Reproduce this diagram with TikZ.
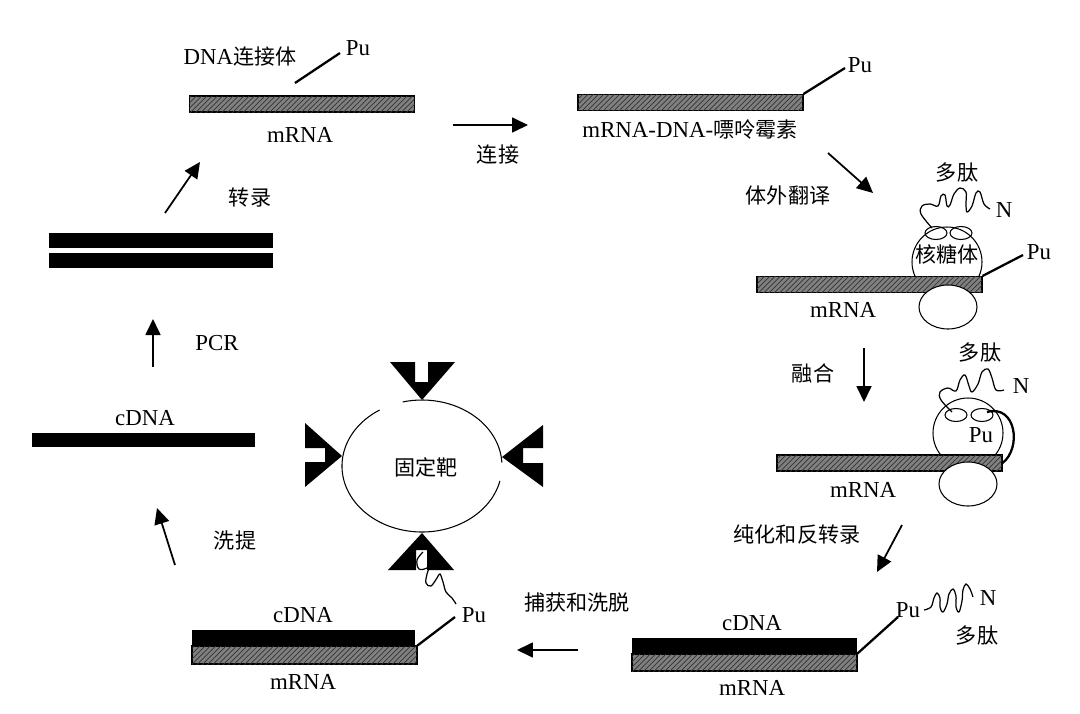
\documentclass[tikz,border=0pt]{standalone}
\usepackage{fontspec}
\setmainfont{Liberation Serif}
\newfontfamily\zh{Noto Sans CJK SC}
\usetikzlibrary{arrows.meta,patterns}
\newcommand{\zt}[1]{{\zh\fontsize{12}{14}\selectfont #1}}
\tikzset{
  rna/.style={draw,semithick,fill=black!50,postaction={pattern=north east lines,pattern color=black!80},inner sep=0pt,minimum width=4.5cm,minimum height=0.32cm},
  dna/.style={fill=black,inner sep=0pt,minimum width=4.5cm,minimum height=0.32cm},
  arr/.style={line width=1pt,-{Triangle[length=0.32cm,width=0.3cm]}},
  lnk/.style={line width=1.3pt},
  pep/.style={line width=0.7pt},
  every node/.style={font=\fontsize{13}{15}\selectfont}
}
\begin{document}
\begin{tikzpicture}[x=0.02cm,y=-0.02cm]
\useasboundingbox (0,0) rectangle (1080,714);
% top left: mRNA with linker
\node[rna] (rnaA) at (302,104) {};
\node (mA) at (300,135) {mRNA};
\node (lnkA) at (240,57) {DNA\zt{连接体}};
\node (puA) at (358,48) {Pu};
\coordinate (lA1) at (295,83); \coordinate (lA2) at (340,53);
\draw[lnk] (lA1) -- (lA2);
\coordinate (a1s) at (453,125); \coordinate (a1e) at (528,125);
\draw[arr] (a1s) -- (a1e);
\node (t1) at (498,155) {\zt{连接}};
% top right: mRNA-DNA-puromycin
\node[rna] (rnaB) at (690.5,102.5) {};
\node (puB) at (860,65) {Pu};
\draw[lnk] (rnaB.north east) -- (845,68);
\node (mB) at (690,130) {mRNA-DNA-\zt{嘌呤霉素}};
\coordinate (a2s) at (828,153); \coordinate (a2e) at (873,193);
\draw[arr] (a2s) -- (a2e);
\node (t2) at (788,195) {\zt{体外翻译}};
% ribosome 1
\draw[semithick,fill=white] (947,262) circle[radius=35];
\node[rna] (rnaC) at (869.5,284.5) {};
\draw[semithick,fill=white] (948,307) circle[x radius=29,y radius=22];
\draw[semithick] (936,233) circle[x radius=11,y radius=6.5] (961,233) circle[x radius=11,y radius=6.5];
\node (ribo1) at (947,254) {\zt{核糖体}};
\draw[pep] plot[smooth,tension=0.6] coordinates {(932,228) (921,214) (922,206) (930,204) (938,206) (941,196) (945,195) (947,206) (950,205) (954,194) (960,188) (966,192) (966,204) (967,212) (972,206) (976,193) (980,192) (984,204) (990,209)};
\node (pep1) at (957,172) {\zt{多肽}};
\node (n1) at (1004,210) {N};
\node (puC) at (1039,252) {Pu};
\draw[lnk] (rnaC.north east) -- (1023,255);
\node (mC) at (843,310) {mRNA};
\coordinate (a3s) at (864,348); \coordinate (a3e) at (864,402);
\draw[arr] (a3s) -- (a3e);
\node (t3) at (813,373) {\zt{融合}};
% ribosome 2 (fused)
\draw[semithick,fill=white] (968,433) circle[radius=35];
\node[rna] (rnaD) at (889.5,463) {};
\draw[semithick,fill=white] (968,484) circle[x radius=29,y radius=22];
\draw[semithick] (956,415) circle[x radius=11,y radius=6.5] (982,415) circle[x radius=11,y radius=6.5];
\node (puD) at (981,435) {Pu};
\draw[lnk] (987,412) .. controls (1016,404) and (1022,448) .. (rnaD.east);
\draw[pep] plot[smooth,tension=0.6] coordinates {(952,412) (941,400) (940,392) (948,388) (956,391) (960,380) (965,375) (969,386) (972,392) (978,384) (982,372) (988,369) (992,378) (996,390) (1004,390)};
\node (pep2) at (980,352) {\zt{多肽}};
\node (n2) at (1021,386) {N};
\node (mD) at (863,490) {mRNA};
\node (t4) at (797,535) {\zt{纯化和反转录}};
\coordinate (a4s) at (902,525); \coordinate (a4e) at (877,572);
\draw[arr] (a4s) -- (a4e);
% bottom right: cDNA/mRNA hybrid
\node[dna] (cdE) at (744.5,646) {};
\node[rna,minimum height=0.34cm] (rnaE) at (744.5,662.5) {};
\node (cE) at (752,623) {cDNA};
\node (mE) at (752,688) {mRNA};
\node (puE) at (908,610) {Pu};
\draw[lnk] (rnaE.north east) -- (898,617);
\draw[pep] plot[smooth,tension=0.6] coordinates {(924,610) (931,607) (934,598) (937,593) (940,598) (940,607) (943,612) (947,604) (949,594) (953,589) (956,596) (956,607) (959,612) (962,601) (963,590) (966,584) (970,589) (973,597)};
\node (n3) at (988,598) {N};
\node (pep3) at (977,635) {\zt{多肽}};
\coordinate (a5s) at (578,650); \coordinate (a5e) at (517,650);
\draw[arr] (a5s) -- (a5e);
\node (t5) at (577,603) {\zt{捕获和洗脱}};
% immobilised target
\draw[semithick] (422,466) ++(13:80 and 66) arc[start angle=13,end angle=238,x radius=80,y radius=66];
\draw[semithick] (422,466) ++(256:80 and 66) arc[start angle=256,end angle=357,x radius=80,y radius=66];
\node (tgt) at (426,467) {\zt{固定靶}};
\fill (390,362) -- (415,362) -- (415,382) -- (428,382) -- (428,362) -- (455,362) -- (422,400) -- cycle;
\fill (305,423) -- (342,456) -- (305,487) -- (305,462) -- (325,462) -- (325,448) -- (305,448) -- cycle;
\fill (543,425) -- (502,457) -- (543,487) -- (543,463) -- (523,463) -- (523,448) -- (543,448) -- cycle;
\fill (422,533) -- (454,570) -- (427,570) -- (427,550) -- (416,550) -- (416,570) -- (388,570) -- cycle;
\draw[pep] plot[smooth,tension=0.6] coordinates {(423,552) (417,560) (419,569) (427,568) (431,563) (427,574) (426,583) (431,586) (437,578) (440,574) (443,582) (446,592) (452,598) (456,604)};
% bottom left: eluted hybrid
\node[dna,minimum width=4.46cm] (cdF) at (303.5,638) {};
\node[rna,minimum height=0.36cm] (rnaF) at (304.5,655) {};
\node (cF) at (303,615) {cDNA};
\node (mF) at (303,682) {mRNA};
\node (puF) at (474,615) {Pu};
\draw[lnk] (rnaF.north east) -- (455,617);
\coordinate (a6s) at (175,565); \coordinate (a6e) at (157,508);
\draw[arr] (a6s) -- (a6e);
\node (t6) at (235,540) {\zt{洗提}};
% left column
\node[dna,minimum width=4.46cm,minimum height=0.28cm] (cdG) at (143.5,440) {};
\node (cG) at (145,418) {cDNA};
\coordinate (a7s) at (153,367); \coordinate (a7e) at (153,319);
\draw[arr] (a7s) -- (a7e);
\node (t7) at (217,343) {PCR};
\node[dna,minimum width=4.48cm,minimum height=0.3cm] (dsG1) at (161,240.5) {};
\node[dna,minimum width=4.48cm,minimum height=0.3cm] (dsG2) at (161,260.5) {};
\coordinate (a8s) at (165,213); \coordinate (a8e) at (200,162);
\draw[arr] (a8s) -- (a8e);
\node (t8) at (250,198) {\zt{转录}};
\end{tikzpicture}
\end{document}
